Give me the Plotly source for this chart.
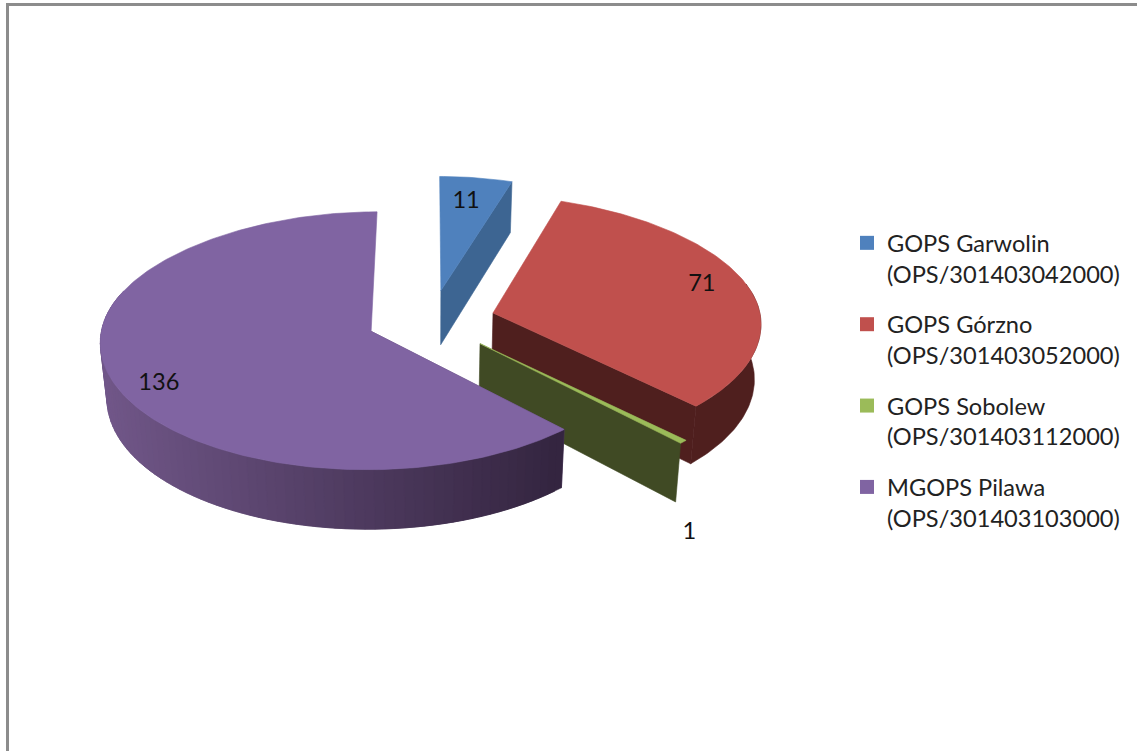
import math
import plotly.graph_objects as go

# --- data ---
categories = ["GOPS Garwolin", "GOPS Górzno", "GOPS Sobolew", "MGOPS Pilawa"]
codes = ["(OPS/301403042000)", "(OPS/301403052000)", "(OPS/301403112000)", "(OPS/301403103000)"]
values = [11, 71, 1, 136]

# --- style ---
top_colors = ["#4f81bd", "#c0504d", "#9bbb59", "#8064a2"]
wall_colors = ["#3d6592", "#4f1f1e", "#404a24", "#35263f"]
FONT = "Lato"
FS = 23.6

# --- projection of the tilted pie onto the pixel axes ---
CX, CY = 431, 320
A, B, K, BULGE = 268, 126.6, 0.073, 0.04
explode = [0.239, 0.239, 0.258, 0.239]
SHRINK_X, STRETCH_Y, DEPTH = 0.98, 1.03, 55
LABEL_DY = 2
label_angle = [8.0, 73.2, 152.5, 243.2]
label_radius = [0.785, 0.84, 1.47, 0.85]


def project(u, v, low=False):
    w = 1 + K * v
    x = A * u / w * (1 - BULGE * max(v, 0) ** 2)
    y = -B * v / w
    if low:
        return CX + x * SHRINK_X, CY + y * STRETCH_Y + DEPTH
    return CX + x, CY + y


def disc(i, mid, ang, r):
    m, a = math.radians(mid), math.radians(ang)
    return explode[i] * math.sin(m) + r * math.sin(a), explode[i] * math.cos(m) + r * math.cos(a)


def poly(fig, pts, color):
    xs = [p[0] for p in pts] + [pts[0][0]]
    ys = [p[1] for p in pts] + [pts[0][1]]
    fig.add_trace(go.Scatter(x=xs, y=ys, mode="lines", fill="toself", fillcolor=color,
                             line=dict(color=color, width=0.6), hoverinfo="skip", showlegend=False))


def mix(c1, c2, t):
    return "rgb(%d,%d,%d)" % tuple(round(a + (b - a) * t) for a, b in zip(c1, c2))


fig = go.Figure()
total = sum(values)
spans = []
s = 0.0
for v in values:
    e = s + 360.0 * v / total
    spans.append((s, e))
    s = e

for i, (a0, a1) in enumerate(spans):
    mid = (a0 + a1) / 2
    apex = disc(i, mid, 0, 0)
    steps = max(4, int(a1 - a0))
    arc = [disc(i, mid, a0 + (a1 - a0) * j / steps, 1) for j in range(steps + 1)]

    # cut face of the slice
    end = arc[-1] if i != 3 else arc[0]
    face = "#5f4873" if i == 3 else wall_colors[i]
    poly(fig, [project(*apex), project(*end), project(*end, low=True), project(*apex, low=True)], face)

    # outer wall
    if i == 1:
        vis = [p for p in arc if p[1] < 0.3]
        poly(fig, [project(*p) for p in vis] + [project(*p, low=True) for p in reversed(vis)], wall_colors[i])
    if i == 3:
        # strips overlap the next one so that no seam shows through
        for j in range(0, steps - 2, 2):
            p, q = arc[j], arc[j + 4] if j + 4 <= steps else arc[-1]
            if q[1] > 0.25:
                break
            px = project(*p)[0]
            t = min(1, max(0, (px - 100) / 460))
            poly(fig, [project(*p), project(*q), project(*q, low=True), project(*p, low=True)],
                 mix((52, 37, 64), (113, 87, 137), 1 - t))

    # top surface
    poly(fig, [project(*apex)] + [project(*p) for p in arc], top_colors[i])

# data labels
lab = [project(*disc(i, (spans[i][0] + spans[i][1]) / 2, label_angle[i], label_radius[i])) for i in range(4)]
fig.add_trace(go.Scatter(x=[p[0] for p in lab], y=[p[1] + LABEL_DY for p in lab], mode="text",
                         text=[str(v) for v in values], textposition="middle center",
                         textfont=dict(family=FONT, size=FS, color="#111111"),
                         hoverinfo="skip", showlegend=False))

# legend entries
for i, name in enumerate(categories):
    fig.add_trace(go.Scatter(x=[None], y=[None], mode="markers", name=f"{name}<br>{codes[i]}",
                             legendgroup=name,
                             marker=dict(symbol="square", size=14, color=top_colors[i])))

fig.update_layout(
    width=1137, height=751, autosize=False,
    margin=dict(l=0, r=0, t=0, b=0),
    paper_bgcolor="white", plot_bgcolor="white",
    xaxis=dict(range=[0, 1137], visible=False, fixedrange=True),
    yaxis=dict(range=[751, 0], visible=False, fixedrange=True),
    legend=dict(x=847 / 1137, y=1 - 221 / 751, xanchor="left", yanchor="top", valign="top",
                font=dict(family=FONT, size=FS, color="#222222"),
                tracegroupgap=17, bgcolor="rgba(0,0,0,0)", itemclick=False, itemdoubleclick=False),
    shapes=[
        dict(type="line", xref="x", yref="y", x0=7.5, x1=7.5, y0=3, y1=751, line=dict(color="#8c8c8c", width=3)),
        dict(type="line", xref="x", yref="y", x0=6, x1=1137, y0=4.5, y1=4.5, line=dict(color="#8c8c8c", width=3)),
    ],
)

fig.write_html("out.html", config={"displayModeBar": False},
               post_script="document.body.style.margin='0';document.documentElement.style.overflow='hidden';")
